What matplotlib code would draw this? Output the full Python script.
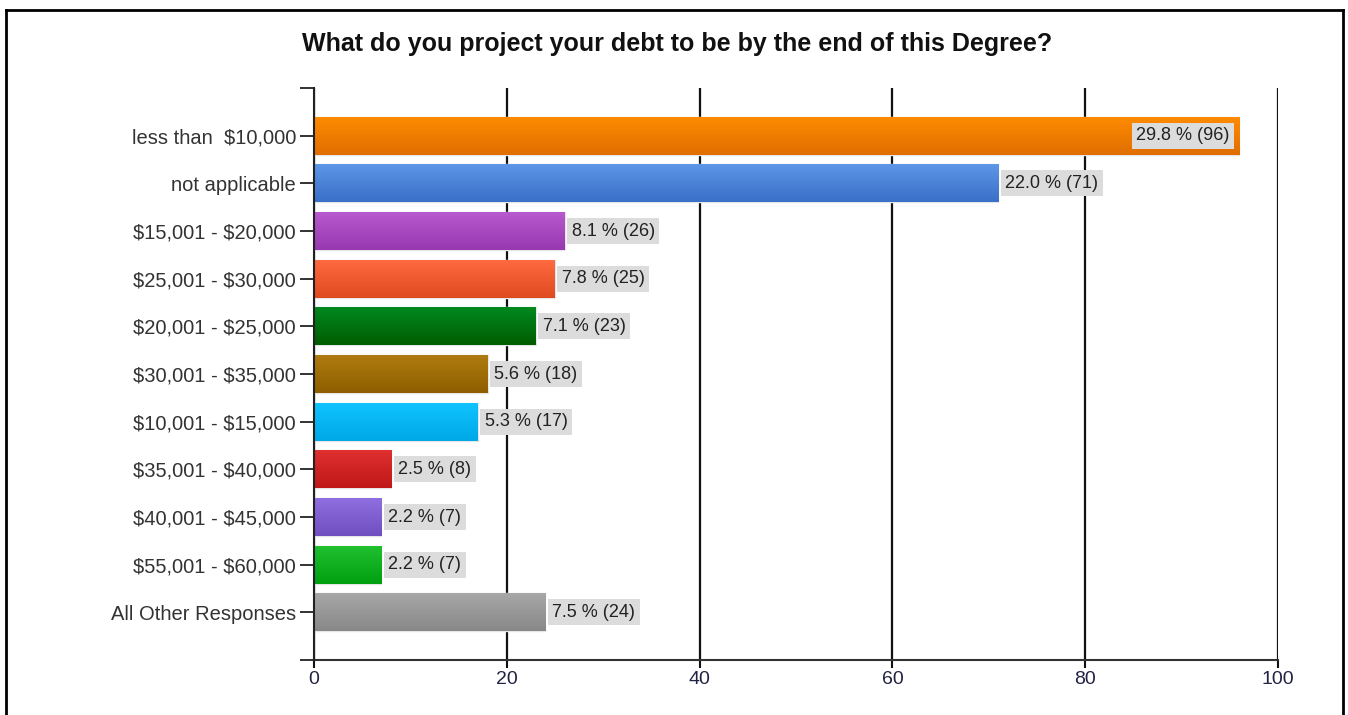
import matplotlib
matplotlib.use("Agg")
import matplotlib.pyplot as plt
import numpy as np
from matplotlib.colors import to_rgb, LinearSegmentedColormap
from matplotlib.lines import Line2D

plt.rcParams['font.family'] = ['Liberation Sans', 'DejaVu Sans']
plt.rcParams['text.parse_math'] = False

categories = ["less than  $10,000", "not applicable", "$15,001 - $20,000",
              "$25,001 - $30,000", "$20,001 - $25,000", "$30,001 - $35,000",
              "$10,001 - $15,000", "$35,001 - $40,000", "$40,001 - $45,000",
              "$55,001 - $60,000", "All Other Responses"]
counts = [96, 71, 26, 25, 23, 18, 17, 8, 7, 7, 24]
percents = [29.8, 22.0, 8.1, 7.8, 7.1, 5.6, 5.3, 2.5, 2.2, 2.2, 7.5]
top_colors = ["#ff8c00", "#5e98e8", "#b85ad0", "#ff6a40", "#008a20", "#b07c10",
              "#10c4ff", "#e03030", "#9070e0", "#20c030", "#a8a8a8"]
bottom_colors = ["#e06e00", "#3a70c8", "#9838b0", "#e04a20", "#005c00", "#8e5e00",
                 "#00a8e8", "#c01818", "#7050c0", "#00a010", "#888888"]
xticks = [0, 20, 40, 60, 80, 100]
title = "What do you project your debt to be by the end of this Degree?"

W, H = 1348, 715
fig = plt.figure(figsize=(W / 100, H / 100), dpi=100)
ax = fig.add_axes([314 / W, 1 - 660 / H, (1278 - 314) / W, (660 - 88) / H])

n = len(categories)
ypos = np.arange(n)
bar_h = 0.8
ax.set_xlim(0, 100)
ax.set_ylim(n, -1)

bars = ax.barh(ypos, counts, height=bar_h, color=top_colors, edgecolor="#e6e6e6",
               linewidth=1.0, zorder=3)
for b, tc, bc in zip(bars, top_colors, bottom_colors):
    x0, y0 = b.get_x(), b.get_y()
    w, h = b.get_width(), b.get_height()
    cmap = LinearSegmentedColormap.from_list("g", [to_rgb(tc), to_rgb(bc)])
    grad = np.linspace(0, 1, 64).reshape(-1, 1)
    im = ax.imshow(grad, cmap=cmap, aspect="auto", extent=[x0, x0 + w, y0 + h, y0],
                   zorder=3.5, interpolation="bilinear")
    im.set_clip_path(b)

for i, (c, p) in enumerate(zip(counts, percents)):
    txt = f"{p:.1f} % ({c})"
    bbox = dict(boxstyle="square,pad=0.25", fc="#dcdcdc", ec="none")
    if c > 90:
        ax.annotate(txt, (c, i), xytext=(-7, 0), textcoords="offset points",
                    ha="right", va="center", fontsize=13, color="#222222",
                    bbox=bbox, zorder=5)
    else:
        ax.annotate(txt, (c, i), xytext=(5, 0), textcoords="offset points",
                    ha="left", va="center", fontsize=13, color="#222222",
                    bbox=bbox, zorder=5)

ax.set_yticks(ypos)
ax.set_yticklabels(categories, fontsize=14.5, color="#333333")
ax.set_yticks([-1, n], minor=True)
ax.tick_params(axis="y", which="both", length=10, width=1.3, color="#222222", pad=3)
ax.set_xticks(xticks)
ax.set_xticklabels([str(t) for t in xticks], fontsize=14, color="#222244")
ax.tick_params(axis="x", length=6, width=1.5, color="#111111", pad=2)

ax.grid(axis="x", color="#111111", linewidth=1.6, zorder=1)
ax.set_axisbelow(True)
for s in ["top", "right"]:
    ax.spines[s].set_visible(False)
ax.spines["left"].set_color("#222222")
ax.spines["left"].set_linewidth(1.5)
ax.spines["left"].set_zorder(4)
ax.spines["bottom"].set_color("#333333")
ax.spines["bottom"].set_linewidth(1.5)

fig.text(677 / W, 1 - 44 / H, title, ha="center", va="center",
         fontsize=18, fontweight="bold", color="#111111")

# outer frame
lx, rx, ty = 6 / W, 1343 / W, 1 - 10 / H
for xs, ys in [([lx, lx], [0, ty]), ([lx, rx], [ty, ty]), ([rx, rx], [ty, 0])]:
    fig.add_artist(Line2D(xs, ys, color="black", linewidth=2, transform=fig.transFigure))

fig.savefig("out.png", dpi=100)
